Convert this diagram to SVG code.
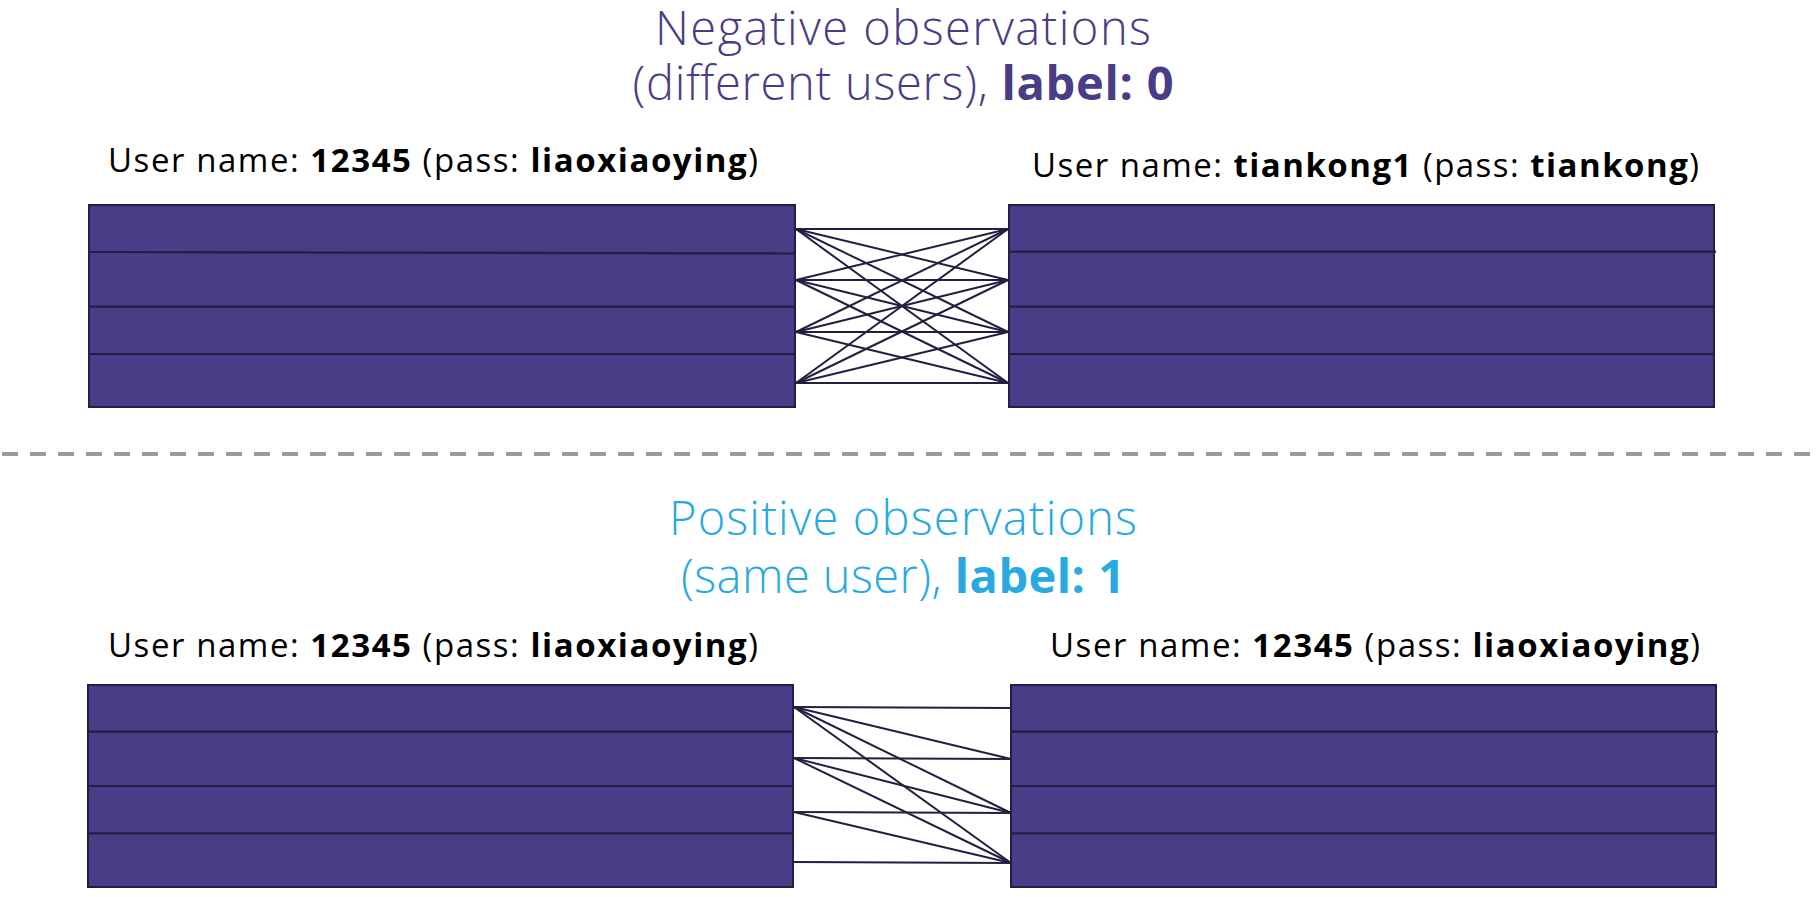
<svg xmlns="http://www.w3.org/2000/svg" width="1817" height="897" viewBox="0 0 1817 897">
<style>
.blk{fill:#4a3c87;stroke:#241e45;stroke-width:2}
.div{stroke:#241e45;stroke-width:2.2}
.con line{stroke:#231f40;stroke-width:2}
.title{font-family:"Open Sans","Noto Sans",sans-serif;font-weight:300;font-size:47px;text-anchor:middle}
.neg{fill:#4a3c87}
.pos{fill:#29a9e1}
.lbl{font-family:"Open Sans","Noto Sans",sans-serif;font-weight:400;font-size:33px;fill:#000}
.b{font-weight:700}
</style>
<rect width="1817" height="897" fill="#fff"/>
<g id="title-negative">
<text class="title neg" x="903" y="45" textLength="496" lengthAdjust="spacing">Negative observations</text>
<text class="title neg" x="903" y="100" textLength="541" lengthAdjust="spacing">(different users), <tspan class="b">label: 0</tspan></text>
</g>
<g id="label-top-left"><text class="lbl" x="108" y="172" textLength="650" lengthAdjust="spacing">User name: <tspan class="b">12345</tspan> (pass: <tspan class="b">liaoxiaoying</tspan>)</text></g>
<g id="label-top-right"><text class="lbl" x="1032" y="177" textLength="667" lengthAdjust="spacing">User name: <tspan class="b">tiankong1</tspan> (pass: <tspan class="b">tiankong</tspan>)</text></g>
<g id="block-top-left">
<rect class="blk" x="89" y="205" width="706" height="202"/>
<line class="div" x1="89" y1="252" x2="795" y2="253.5"/>
<line class="div" x1="89" y1="306.7" x2="795" y2="306.7"/>
<line class="div" x1="89" y1="354" x2="795" y2="354"/>
</g>
<g id="block-top-right">
<rect class="blk" x="1009" y="205" width="705" height="202"/>
<line class="div" x1="1009" y1="251.7" x2="1716" y2="251.7"/>
<line class="div" x1="1009" y1="306.7" x2="1714" y2="306.7"/>
<line class="div" x1="1009" y1="354" x2="1714" y2="354"/>
</g>
<g id="connectors-top" class="con">
<line x1="796" y1="229" x2="1008" y2="229"/>
<line x1="796" y1="229" x2="1008" y2="280"/>
<line x1="796" y1="229" x2="1008" y2="332"/>
<line x1="796" y1="229" x2="1008" y2="383"/>
<line x1="796" y1="280" x2="1008" y2="229"/>
<line x1="796" y1="280" x2="1008" y2="280"/>
<line x1="796" y1="280" x2="1008" y2="332"/>
<line x1="796" y1="280" x2="1008" y2="383"/>
<line x1="796" y1="332" x2="1008" y2="229"/>
<line x1="796" y1="332" x2="1008" y2="280"/>
<line x1="796" y1="332" x2="1008" y2="332"/>
<line x1="796" y1="332" x2="1008" y2="383"/>
<line x1="796" y1="383" x2="1008" y2="229"/>
<line x1="796" y1="383" x2="1008" y2="280"/>
<line x1="796" y1="383" x2="1008" y2="332"/>
<line x1="796" y1="383" x2="1008" y2="383"/>
</g>
<line id="separator" x1="2" y1="454" x2="1817" y2="454" stroke="#9a9a9a" stroke-width="4" stroke-dasharray="16 12"/>
<g id="title-positive">
<text class="title pos" x="903" y="535" textLength="468" lengthAdjust="spacing">Positive observations</text>
<text class="title pos" x="903" y="593" textLength="444" lengthAdjust="spacing">(same user), <tspan class="b">label: 1</tspan></text>
</g>
<g id="label-bottom-left"><text class="lbl" x="108" y="657" textLength="650" lengthAdjust="spacing">User name: <tspan class="b">12345</tspan> (pass: <tspan class="b">liaoxiaoying</tspan>)</text></g>
<g id="label-bottom-right"><text class="lbl" x="1050" y="657" textLength="650" lengthAdjust="spacing">User name: <tspan class="b">12345</tspan> (pass: <tspan class="b">liaoxiaoying</tspan>)</text></g>
<g id="block-bottom-left">
<rect class="blk" x="88" y="685" width="705" height="202"/>
<line class="div" x1="88" y1="731.7" x2="793" y2="731.7"/>
<line class="div" x1="88" y1="786" x2="793" y2="786"/>
<line class="div" x1="88" y1="833.3" x2="793" y2="833.3"/>
</g>
<g id="block-bottom-right">
<rect class="blk" x="1011" y="685" width="705" height="202"/>
<line class="div" x1="1011" y1="731.7" x2="1718" y2="731.7"/>
<line class="div" x1="1011" y1="786" x2="1716" y2="786"/>
<line class="div" x1="1011" y1="833.3" x2="1716" y2="833.3"/>
</g>
<g id="connectors-bottom" class="con">
<line x1="794" y1="707" x2="1011" y2="708"/>
<line x1="794" y1="707" x2="1011" y2="759"/>
<line x1="794" y1="707" x2="1011" y2="813"/>
<line x1="794" y1="707" x2="1011" y2="863"/>
<line x1="794" y1="758" x2="1011" y2="759"/>
<line x1="794" y1="758" x2="1011" y2="813"/>
<line x1="794" y1="758" x2="1011" y2="863"/>
<line x1="794" y1="812" x2="1011" y2="813"/>
<line x1="794" y1="812" x2="1011" y2="863"/>
<line x1="794" y1="862" x2="1011" y2="863"/>
</g>
</svg>
